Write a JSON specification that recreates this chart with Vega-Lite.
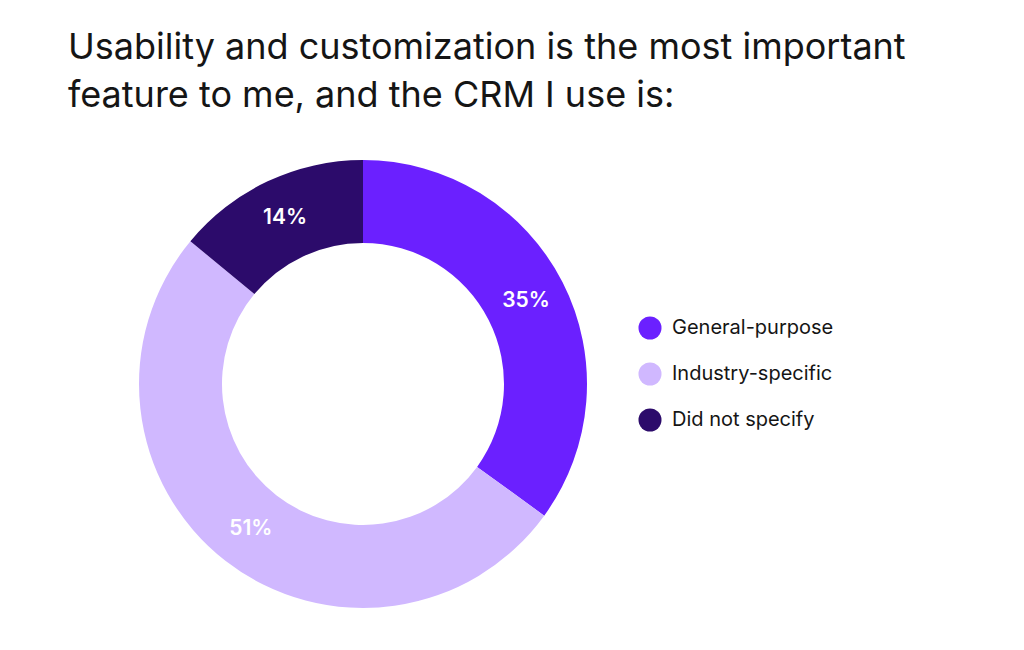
{
  "$schema": "https://vega.github.io/schema/vega-lite/v6.json",
  "width": 590,
  "height": 508,
  "autosize": {"type": "none"},
  "padding": {"left": 68, "top": 130, "right": 366, "bottom": 12},
  "background": "#ffffff",
  "title": {
    "text": ["Usability and customization is the most important", "feature to me, and the CRM I use is:"],
    "anchor": "start",
    "frame": "group",
    "font": "Inter",
    "fontSize": 36,
    "fontWeight": 400,
    "lineHeight": 48,
    "color": "#151515",
    "offset": 15
  },
  "data": {
    "values": [
      {"category": "General-purpose", "share": 0.35},
      {"category": "Industry-specific", "share": 0.51},
      {"category": "Did not specify", "share": 0.14}
    ]
  },
  "transform": [
    {"window": [{"op": "row_number", "as": "rank"}]}
  ],
  "encoding": {
    "theta": {"field": "share", "type": "quantitative", "stack": true},
    "order": {"field": "rank", "type": "quantitative", "sort": "ascending"},
    "color": {
      "field": "category",
      "type": "nominal",
      "sort": ["General-purpose", "Industry-specific", "Did not specify"],
      "scale": {
        "domain": ["General-purpose", "Industry-specific", "Did not specify"],
        "range": ["#6b20ff", "#d0b8ff", "#2c0b6b"]
      },
      "legend": {
        "title": null,
        "orient": "none",
        "legendX": 570,
        "legendY": 186,
        "symbolType": "circle",
        "symbolSize": 530,
        "symbolStrokeWidth": 0,
        "symbolOpacity": 1,
        "labelFont": "Inter",
        "labelFontSize": 20,
        "labelColor": "#151515",
        "labelOffset": 10,
        "labelLimit": 300,
        "rowPadding": 22,
        "padding": 0
      }
    }
  },
  "layer": [
    {
      "mark": {"type": "arc", "outerRadius": 224, "innerRadius": 141, "strokeWidth": 0}
    },
    {
      "mark": {"type": "text", "radius": 183, "font": "Inter", "fontSize": 21, "fontWeight": 600, "fill": "#ffffff"},
      "encoding": {
        "text": {"field": "share", "type": "quantitative", "format": ".0%"},
        "color": {"value": "#ffffff"}
      }
    }
  ],
  "config": {"view": {"stroke": null}}
}
